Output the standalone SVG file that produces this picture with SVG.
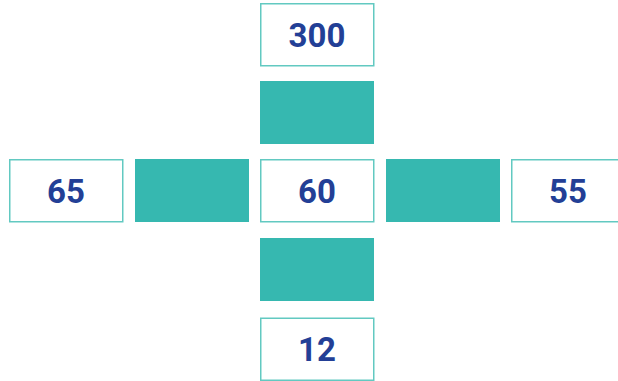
<svg xmlns="http://www.w3.org/2000/svg" width="618" height="381" viewBox="0 0 618 381">
<style>
.box{fill:#ffffff;stroke:#62c9c1;stroke-width:1.5}
.fill{fill:#36b8b0}
.t{font-family:Roboto,"Liberation Sans",sans-serif;font-weight:bold;font-size:33px;fill:#233f96;text-anchor:middle}
</style>
<rect width="618" height="381" fill="#ffffff"/>
<g id="connectors">
<rect class="fill" x="260" y="81" width="114" height="63"/>
<rect class="fill" x="135" y="159" width="114" height="63"/>
<rect class="fill" x="386" y="159" width="114" height="63"/>
<rect class="fill" x="260" y="238" width="114" height="63"/>
</g>
<g id="n300"><rect class="box" x="260.75" y="3.75" width="113" height="62"/><text class="t" x="317" y="47">300</text></g>
<g id="n65"><rect class="box" x="9.75" y="159.75" width="113" height="62"/><text class="t" x="66" y="203">65</text></g>
<g id="n60"><rect class="box" x="260.75" y="159.75" width="113" height="62"/><text class="t" x="317" y="203">60</text></g>
<g id="n55"><rect class="box" x="511.75" y="159.75" width="113" height="62"/><text class="t" x="568" y="203">55</text></g>
<g id="n12"><rect class="box" x="260.75" y="318.25" width="113" height="62"/><text class="t" x="317" y="361">12</text></g>
</svg>
